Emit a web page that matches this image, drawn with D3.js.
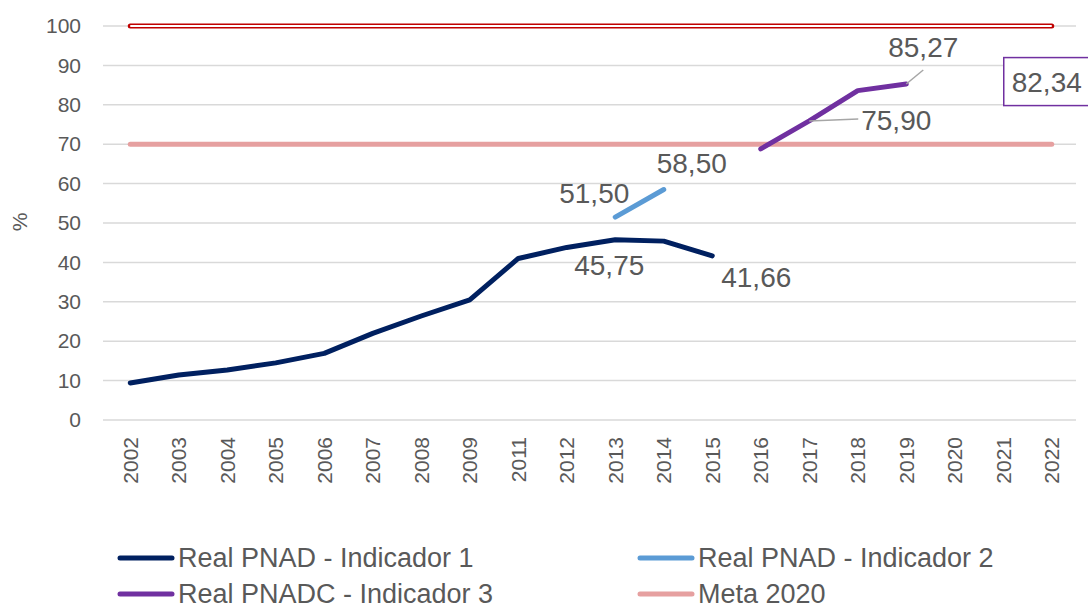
<!DOCTYPE html>
<html lang="pt">
<head>
<meta charset="UTF-8">
<title>Indicadores PNAD</title>
<script src="https://cdn.jsdelivr.net/npm/d3@7"></script>
<style>
  body { margin: 0; background: #fff; }
  text { font-family: "Liberation Sans", Arial, sans-serif; fill: #595959; }
</style>
</head>
<body>
<div id="box"></div>
<script>
// categorias (nao existe 2010)
const years = ["2002","2003","2004","2005","2006","2007","2008","2009","2011","2012",
  "2013","2014","2015","2016","2017","2018","2019","2020","2021","2022"];
const yTicks = [0,10,20,30,40,50,60,70,80,90,100];

const pnad1 = [["2002",9.4],["2003",11.4],["2004",12.7],["2005",14.5],["2006",16.9],
  ["2007",22.0],["2008",26.4],["2009",30.5],["2011",41.0],["2012",43.8],
  ["2013",45.75],["2014",45.4],["2015",41.66]];
const pnad2 = [["2013",51.5],["2014",58.5]];
const pnadc3 = [["2016",68.8],["2017",75.9],["2018",83.6],["2019",85.27]];
const meta2020 = years.map(y => [y,70]);
const meta100 = years.map(y => [y,100]);
const boxLabel = ["2022",82.34];

const width = 1088, height = 610;
const svg = d3.select("#box").append("svg").attr("width",width).attr("height",height);

const x = d3.scaleBand().domain(years).range([106,1076]);
const y = d3.scaleLinear().domain([0,100]).range([420,26]);
const cx = d => x(d) + x.bandwidth()/2;

// grade
svg.append("g").selectAll("line").data(yTicks).join("line")
  .attr("x1",103).attr("x2",1076)
  .attr("y1",d=>y(d)).attr("y2",d=>y(d))
  .attr("stroke","#d9d9d9").attr("stroke-width",1.5);

// eixo y
const yAxis = d3.axisLeft(y).tickValues(yTicks).tickSize(0).tickPadding(0);
const gy = svg.append("g").attr("transform","translate(81,0)").call(yAxis);
gy.select(".domain").remove();
gy.selectAll("text").attr("font-size","21px").attr("fill","#595959")
  .attr("font-family","Liberation Sans, Arial, sans-serif");

// eixo x
const xAxis = d3.axisBottom(x).tickSize(0);
const gx = svg.append("g").attr("transform","translate(0,420)").call(xAxis);
gx.select(".domain").remove();
gx.selectAll("text")
  .attr("font-size","21px").attr("fill","#595959")
  .attr("font-family","Liberation Sans, Arial, sans-serif")
  .attr("transform","rotate(-90)")
  .attr("text-anchor","end")
  .attr("x",-17).attr("y",0).attr("dy","0.35em");

svg.append("text").text("%")
  .attr("transform","translate(27,222) rotate(-90)")
  .attr("text-anchor","middle").attr("font-size","21px");

const line = d3.line().x(d=>cx(d[0])).y(d=>y(d[1]));

// linha 100 (contorno duplo)
svg.append("path").datum(meta100).attr("d",line).attr("fill","none")
  .attr("stroke","#c00000").attr("stroke-width",5).attr("stroke-linecap","round");
svg.append("path").datum(meta100).attr("d",line).attr("fill","none")
  .attr("stroke","#fff").attr("stroke-width",2);

svg.append("path").datum(meta2020).attr("d",line).attr("fill","none")
  .attr("stroke","#e6a0a0").attr("stroke-width",5).attr("stroke-linecap","round");

const series = [
  {data:pnad1, color:"#002060"},
  {data:pnad2, color:"#5b9bd5"},
  {data:pnadc3, color:"#7030a0"}
];
series.forEach(s=>{
  svg.append("path").datum(s.data).attr("d",line).attr("fill","none")
    .attr("stroke",s.color).attr("stroke-width",5)
    .attr("stroke-linecap","round").attr("stroke-linejoin","round");
});

// rotulos de dados
const fmt = v => d3.format(".2f")(v).replace(".",",");
const labels = [
  {p:pnad1[10], dx:-6, dy:35},
  {p:pnad1[12], dx:44, dy:31},
  {p:pnad2[0], dx:-21, dy:-14},
  {p:pnad2[1], dx:28, dy:-17},
  {p:pnadc3[1], dx:87, dy:9, lead:[0,0,49,-2]},
  {p:pnadc3[3], dx:17, dy:-27, lead:[0,0,17,-14]}
];
labels.forEach(l=>{
  const px = cx(l.p[0]), py = y(l.p[1]);
  if (l.lead) {
    svg.append("line").attr("x1",px+l.lead[0]).attr("y1",py+l.lead[1])
      .attr("x2",px+l.lead[2]).attr("y2",py+l.lead[3])
      .attr("stroke","#a6a6a6").attr("stroke-width",1.5);
  }
  svg.append("text").text(fmt(l.p[1]))
    .attr("x",px+l.dx).attr("y",py+l.dy)
    .attr("text-anchor","middle").attr("font-size","28px").attr("fill","#404040");
});

// caixa 82,34
const bx = cx(boxLabel[0]), by = y(boxLabel[1]);
svg.append("rect").attr("x",bx-48).attr("y",by-38).attr("width",96).attr("height",48)
  .attr("fill","#fff").attr("stroke","#7030a0").attr("stroke-width",1.5);
svg.append("text").text(fmt(boxLabel[1]))
  .attr("x",bx-5).attr("y",by-4).attr("text-anchor","middle")
  .attr("font-size","28px").attr("fill","#404040");

// legenda
const legend = [
  {name:"Real PNAD - Indicador 1", color:"#002060", x:118, y:558},
  {name:"Real PNAD - Indicador 2", color:"#5b9bd5", x:638, y:558},
  {name:"Real PNADC - Indicador 3", color:"#7030a0", x:118, y:594},
  {name:"Meta 2020", color:"#e6a0a0", x:638, y:594}
];
const lg = svg.append("g").selectAll("g").data(legend).join("g")
  .attr("transform",d=>`translate(${d.x},${d.y})`);
lg.append("line").attr("x1",2).attr("x2",54).attr("stroke",d=>d.color)
  .attr("stroke-width",5).attr("stroke-linecap","round");
lg.append("text").text(d=>d.name).attr("x",60).attr("dy","0.35em")
  .attr("font-size","27px");
</script>
</body>
</html>
